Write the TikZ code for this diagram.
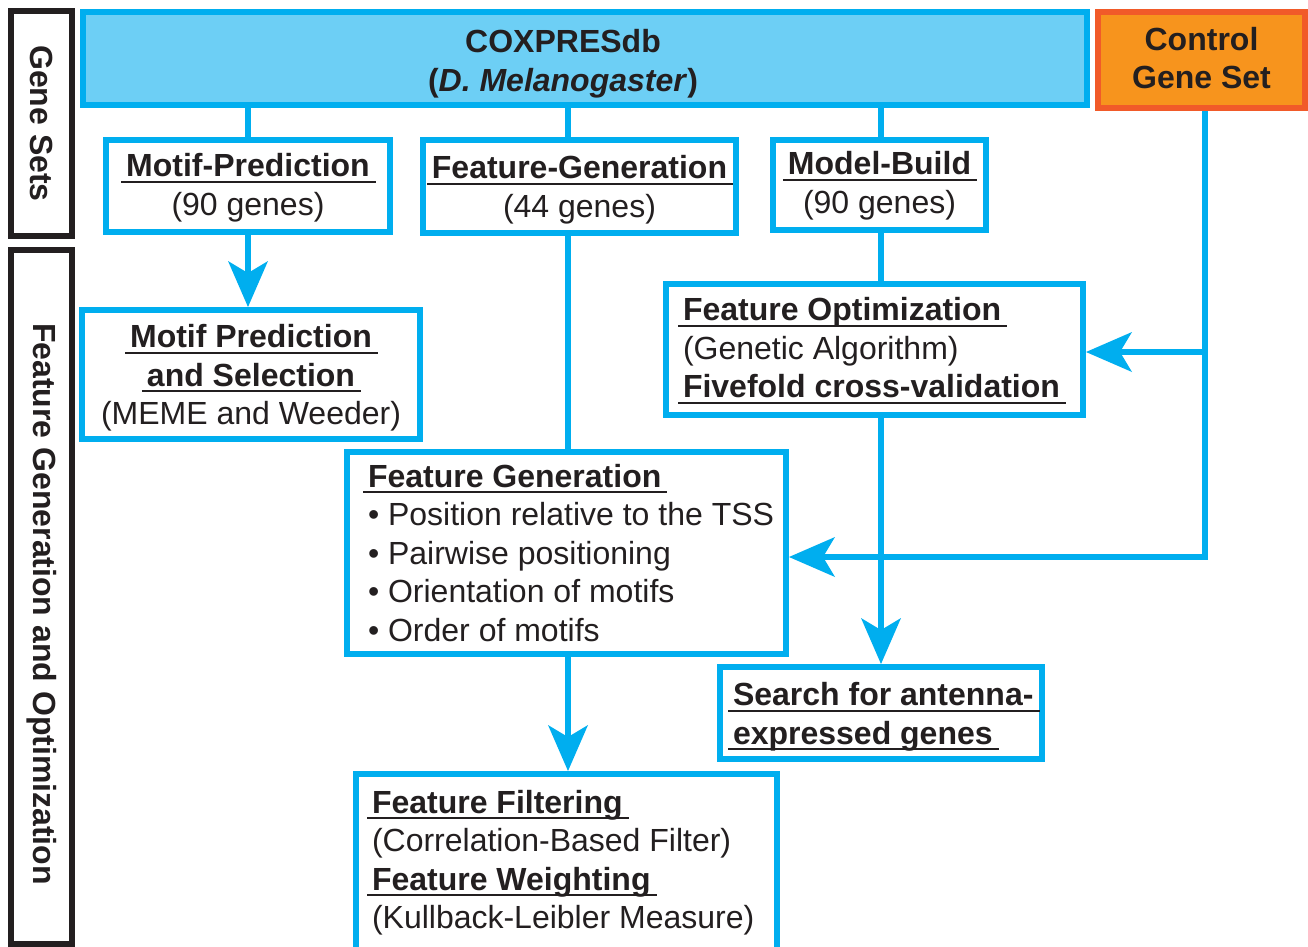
\documentclass[tikz,border=0pt]{standalone}
\usepackage{fontspec}
\setmainfont{Liberation Sans}
\usetikzlibrary{arrows.meta}
\definecolor{cy}{HTML}{00AEEF}
\definecolor{cyfill}{HTML}{6DCFF5}
\definecolor{orfill}{HTML}{F7941D}
\definecolor{orline}{HTML}{F15A29}
\definecolor{ink}{HTML}{231F20}
\newsavebox\ulbox
\newcommand\ulh[1]{\sbox\ulbox{\bfseries #1}\rlap{\kern-5pt\rule[-6pt]{\dimexpr\wd\ulbox+11pt\relax}{2pt}}\usebox\ulbox}
\newcommand\sh[2]{\raisebox{-#1pt}[\height][\depth]{#2}}
\begin{document}
\begin{tikzpicture}[x=1pt,y=-1pt,
  font=\fontsize{32}{38.5}\selectfont, text=ink,
  box/.style n args={2}{draw=cy, line width=6pt, fill=white, inner sep=0pt, outer sep=3pt,
    minimum width=#1pt, minimum height=#2pt},
  lbox/.style n args={2}{draw=ink, line width=6pt, fill=white, inner sep=0pt,
    minimum width=#1pt, minimum height=#2pt, rotate=-90, font=\fontsize{32}{38.5}\selectfont\bfseries},
  conn/.style={draw=cy, line width=5.5pt},
  arr/.style={conn, -{Stealth[length=46pt,width=40pt,inset=12pt,line width=0pt]}}]
\useasboundingbox[fill=white] (0,0) rectangle (1308,946);

% columns and rows
\coordinate (x1) at (248,0);
\coordinate (x2) at (568,0);
\coordinate (x3) at (881,0);
\coordinate (x4) at (1205,0);
\coordinate (y1) at (0,352);
\coordinate (y2) at (0,557);

% side labels
\node[lbox={225}{61}] (gs) at (41.5,123.5) {Gene Sets};
\node[lbox={694}{61}] (fgo) at (41.5,597) {\hspace*{14pt}Feature Generation and Optimization};

% top row
\node[box={1004}{93}, fill=cyfill] (cox) at (585,58.5)
  {\hspace*{-44pt}\sh{6}{\begin{tabular}{@{}c@{}}\textbf{COXPRESdb}\\\textbf{(\textit{D. Melanogaster})}\end{tabular}}};
\node[box={207}{96}, draw=orline, fill=orfill] (ctrl) at (1201.5,60)
  {\sh{2}{\begin{tabular}{@{}c@{}}\textbf{Control}\\\textbf{Gene Set}\end{tabular}}};

% gene set boxes
\node[box={284}{92}] (mp) at (248,186)
  {\sh{2.5}{\begin{tabular}{@{}c@{}}\ulh{Motif-Prediction}\\(90 genes)\end{tabular}}};
\node[box={313}{93}] (fg44) at (579.5,186.5)
  {\sh{4}{\begin{tabular}{@{}c@{}}\ulh{Feature-Generation}\\(44 genes)\end{tabular}}};
\node[box={213}{90}] (mb) at (879.5,185)
  {\sh{1.5}{\begin{tabular}{@{}c@{}}\ulh{Model-Build}\\(90 genes)\end{tabular}}};

% process boxes
\node[box={338}{129}] (mps) at (251,374.5)
  {\sh{4}{\begin{tabular}{@{}c@{}}\ulh{Motif Prediction}\\\ulh{and Selection}\\(MEME and Weeder)\end{tabular}}};
\node[box={417}{131}] (fo) at (874.5,349.5)
  {\makebox[417pt][l]{\hspace*{17pt}\sh{2}{\begin{tabular}{@{}l@{}}\ulh{Feature Optimization}\\(Genetic Algorithm)\\\ulh{Fivefold cross-validation}\end{tabular}}}};
\node[box={439}{202}] (fg) at (566.5,553)
  {\makebox[439pt][l]{\hspace*{21pt}\sh{3.5}{\begin{tabular}{@{}l@{}}\ulh{Feature Generation}\\• Position relative to the TSS\\• Pairwise positioning\\• Orientation of motifs\\• Order of motifs\end{tabular}}}};
\node[box={322}{92}] (search) at (881,713)
  {\makebox[322pt][l]{\hspace*{13pt}\sh{4.5}{\begin{tabular}{@{}l@{}}\ulh{Search for antenna-}\\\ulh{expressed genes}\end{tabular}}}};
\node[box={421}{176}] (ff) at (566.5,862)
  {\makebox[421pt][l]{\hspace*{16pt}\sh{1.5}{\begin{tabular}{@{}l@{}}\ulh{Feature Filtering}\\(Correlation-Based Filter)\\\ulh{Feature Weighting}\\(Kullback-Leibler Measure)\end{tabular}}}};

% connectors
\draw[conn] (cox.south -| x1) -- (mp.north -| x1);
\draw[arr] (mp.south -| x1) -- (mps.north -| x1);
\draw[conn] (cox.south -| x2) -- (fg44.north -| x2);
\draw[conn] (fg44.south -| x2) -- (fg.north -| x2);
\draw[arr] (fg.south -| x2) -- (ff.north -| x2);
\draw[conn] (cox.south -| x3) -- (mb.north -| x3);
\draw[conn] (mb.south -| x3) -- (fo.north -| x3);
\draw[arr] (fo.south -| x3) -- (search.north -| x3);
\draw[arr] (ctrl.south -| x4) |- (fg.east |- y2);
\draw[arr] (x4 |- y1) -- (fo.east |- y1);
\end{tikzpicture}
\end{document}
